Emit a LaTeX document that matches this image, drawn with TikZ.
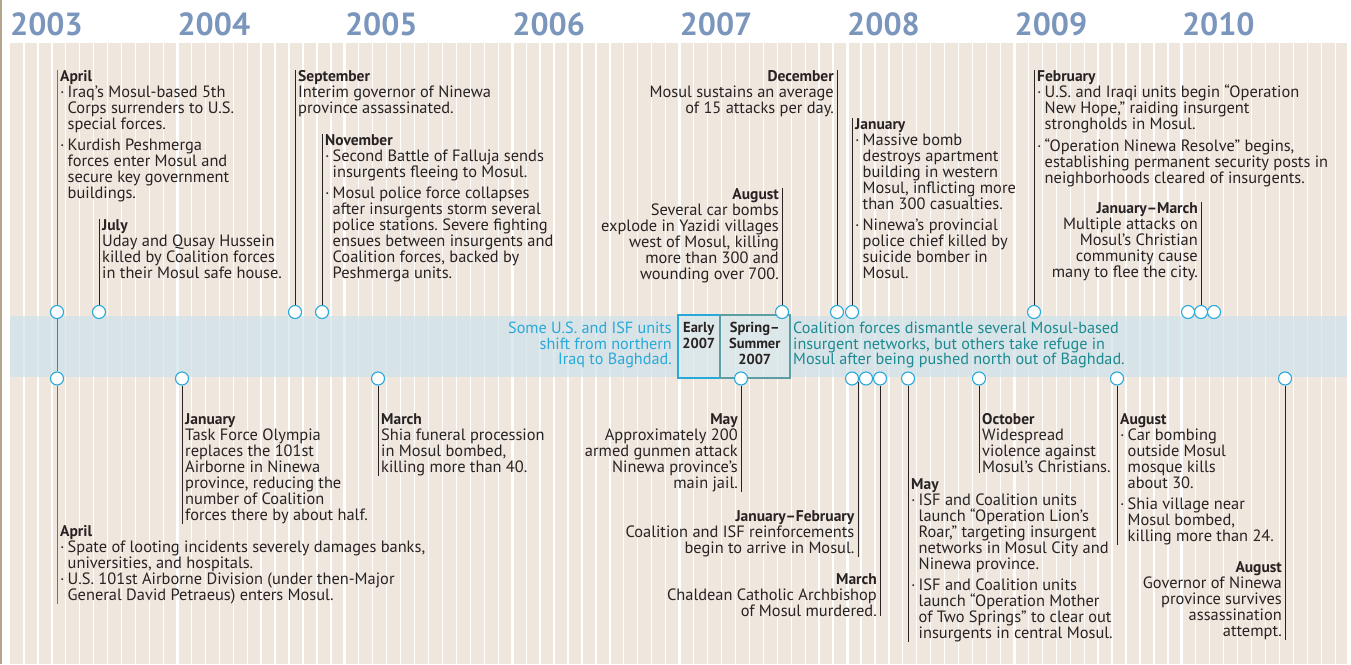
\documentclass[tikz,border=0pt]{standalone}
\usepackage{fontspec}
\setmainfont{PT Sans}
\usetikzlibrary{positioning}
\frenchspacing

\definecolor{paper}{RGB}{239,230,222}
\definecolor{edge}{RGB}{180,166,138}
\definecolor{yearblue}{RGB}{123,150,188}
\definecolor{dotblue}{RGB}{41,169,218}
\definecolor{bandblue}{RGB}{206,227,234}
\definecolor{tealtext}{RGB}{28,138,146}
\definecolor{boxteal}{RGB}{93,158,163}
\definecolor{ink}{RGB}{40,34,34}

\tikzset{
  dot/.style={circle, draw=dotblue, fill=white, line width=1.1pt, minimum size=13pt, inner sep=0pt},
  stem/.style={draw=ink, line width=1pt},
  graystem/.style={draw=black!55, line width=1pt},
  event/.style={inner sep=0pt, align=left, font=\fontsize{16.4}{16}\selectfont, text=ink},
  eventr/.style={event, align=right},
  bandtext/.style={inner sep=0pt, font=\fontsize{16.2}{15.5}\selectfont},
  boxtext/.style={inner sep=0pt, align=center, font=\fontsize{14.5}{16}\selectfont\bfseries, text=ink},
  yearlabel/.style={anchor=base west, inner sep=0pt, font=\fontsize{32}{32}\selectfont\bfseries, text=yearblue}
}
\newcommand{\mon}[1]{{\fontsize{15.5}{16}\selectfont\bfseries #1}}
\newcommand{\bul}{\makebox[7.5pt][l]{·}}
\newcommand{\ind}{\hspace*{7.5pt}}

\begin{document}
\begin{tikzpicture}[x=1pt, y=-1pt]
  \useasboundingbox (0,0) rectangle (1351,664);

  % paper and month stripes
  \fill[white] (0,0) rectangle (1351,664);
  \fill[paper] (10,43) rectangle (1347,664);
  \draw[edge, line width=2pt] (1,0) -- (1,664);
  \foreach \k in {1,...,95}{
    \pgfmathsetmacro\w{mod(\k,12)==0 ? 3 : 1.3}
    \draw[white, line width=\w pt] ({10+13.95*\k},43) -- ({10+13.95*\k},664);
  }

  % years
  \foreach \yr [count=\i from 0] in {2003,...,2010}
    \node[yearlabel] (y\yr) at ({10+167.4*\i},35) {\yr};

  % the band
  \fill[bandblue, opacity=0.7] (10,316) rectangle (1347,377);
  \node[draw=dotblue, fill=white, fill opacity=0.15, line width=1.5pt, minimum width=42, minimum height=63,
        anchor=north west, inner sep=0] (early) at (677,314) {};
  \node[draw=boxteal, fill=white, fill opacity=0.15, line width=1.5pt, minimum width=70, minimum height=63,
        anchor=north west, inner sep=0] (spring) at (719,314) {};
  \node[boxtext, anchor=north] (earlytxt) at ([yshift=-8]early.north) {Early\\2007};
  \node[boxtext, anchor=north] (springtxt) at ([yshift=-8]spring.north) {Spring--\\Summer\\2007};
  \node[bandtext, text=dotblue, align=right, anchor=north east] (shift) at (672,322)
    {Some U.S. and ISF units\\shift from northern\\Iraq to Baghdad.};
  \node[bandtext, text=tealtext, align=left, anchor=north west] (refuge) at (793,322)
    {Coalition forces dismantle several Mosul-based\\insurgent networks, but others take refuge in\\Mosul after being pushed north out of Baghdad.};

  % circles above the band
  \foreach \nm/\x in {a03/57, j03/99, s04/295, n04/322, a07/782, d07/837, j08/852, f09/1034, c10a/1188, c10b/1201, c10c/1214}
    \node[dot] (t\nm) at (\x,312) {};
  % circles below the band
  \foreach \nm/\x in {a03/57, j04/182, m05/378, m07/741, b08a/852, b08b/866, m08/880, y08/908, o08/979, a09/1117, a10/1285}
    \node[dot] (b\nm) at (\x,378.5) {};

  % events above
  \node[event, anchor=north west] (apr03) at (60,70)
    {\mon{April}\\
     \bul Iraq’s Mosul-based 5th\\
     \ind Corps surrenders to U.S.\\
     \ind special forces.\\[5pt]
     \bul Kurdish Peshmerga\\
     \ind forces enter Mosul and\\
     \ind secure key government\\
     \ind buildings.};
  \node[event, anchor=north west] (jul03) at (102,219)
    {\mon{July}\\Uday and Qusay Hussein\\killed by Coalition forces\\in their Mosul safe house.};
  \node[event, anchor=north west] (sep04) at (298,70)
    {\mon{September}\\Interim governor of Ninewa\\province assassinated.};
  \node[event, anchor=north west] (nov04) at (325,134)
    {\mon{November}\\
     \bul Second Battle of Falluja sends\\
     \ind insurgents fleeing to Mosul.\\[5pt]
     \bul Mosul police force collapses\\
     \ind after insurgents storm several\\
     \ind police stations. Severe fighting\\
     \ind ensues between insurgents and\\
     \ind Coalition forces, backed by\\
     \ind Peshmerga units.};
  \node[eventr, anchor=north east] (aug07) at (779,188)
    {\mon{August}\\Several car bombs\\explode in Yazidi villages\\west of Mosul, killing\\more than 300 and\\wounding over 700.};
  \node[eventr, anchor=north east] (dec07) at (834,70)
    {\mon{December}\\Mosul sustains an average\\of 15 attacks per day.};
  \node[event, anchor=north west] (jan08) at (855,118)
    {\mon{January}\\
     \bul Massive bomb\\
     \ind destroys apartment\\
     \ind building in western\\
     \ind Mosul, inflicting more\\
     \ind than 300 casualties.\\[5pt]
     \bul Ninewa’s provincial\\
     \ind police chief killed by\\
     \ind suicide bomber in\\
     \ind Mosul.};
  \node[event, anchor=north west] (feb09) at (1037,70)
    {\mon{February}\\
     \bul U.S. and Iraqi units begin “Operation\\
     \ind New Hope,” raiding insurgent\\
     \ind strongholds in Mosul.\\[5pt]
     \bul “Operation Ninewa Resolve” begins,\\
     \ind establishing permanent security posts in\\
     \ind neighborhoods cleared of insurgents.};
  \node[eventr, anchor=north east] (jm10) at (1198,202)
    {\mon{January--March}\\Multiple attacks on\\Mosul’s Christian\\community cause\\many to flee the city.};

  % events below
  \node[event, anchor=north west] (apr03b) at (60,525)
    {\mon{April}\\
     \bul Spate of looting incidents severely damages banks,\\
     \ind universities, and hospitals.\\
     \bul U.S. 101st Airborne Division (under then-Major\\
     \ind General David Petraeus) enters Mosul.};
  \node[event, anchor=north west] (jan04) at (185,413)
    {\mon{January}\\Task Force Olympia\\replaces the 101st\\Airborne in Ninewa\\province, reducing the\\number of Coalition\\forces there by about half.};
  \node[event, anchor=north west] (mar05) at (381,413)
    {\mon{March}\\Shia funeral procession\\in Mosul bombed,\\killing more than 40.};
  \node[eventr, anchor=north east] (may07) at (738,413)
    {\mon{May}\\Approximately 200\\armed gunmen attack\\Ninewa province’s\\main jail.};
  \node[eventr, anchor=north east] (jf08) at (854.5,510)
    {\mon{January--February}\\Coalition and ISF reinforcements\\begin to arrive in Mosul.};
  \node[eventr, anchor=north east] (mar08) at (877,573)
    {\mon{March}\\Chaldean Catholic Archbishop\\of Mosul murdered.};
  \node[event, anchor=north west] (may08) at (911,478)
    {\mon{May}\\
     \bul ISF and Coalition units\\
     \ind launch “Operation Lion’s\\
     \ind Roar,” targeting insurgent\\
     \ind networks in Mosul City and\\
     \ind Ninewa province.\\[5pt]
     \bul ISF and Coalition units\\
     \ind launch “Operation Mother\\
     \ind of Two Springs” to clear out\\
     \ind insurgents in central Mosul.};
  \node[event, anchor=north west] (oct08) at (982,413)
    {\mon{October}\\Widespread\\violence against\\Mosul’s Christians.};
  \node[event, anchor=north west] (aug09) at (1120,413)
    {\mon{August}\\
     \bul Car bombing\\
     \ind outside Mosul\\
     \ind mosque kills\\
     \ind about 30.\\[5pt]
     \bul Shia village near\\
     \ind Mosul bombed,\\
     \ind killing more than 24.};
  \node[eventr, anchor=north east] (aug10) at (1282,561)
    {\mon{August}\\Governor of Ninewa\\province survives\\assassination\\attempt.};

  % stems up
  \draw[graystem] (ta03.north) -- (apr03.north -| ta03);
  \draw[graystem] (ta03.south) -- (ba03.north);
  \draw[stem] (tj03.north) -- (jul03.north -| tj03);
  \draw[stem] (ts04.north) -- (sep04.north -| ts04);
  \draw[stem] (tn04.north) -- (nov04.north -| tn04);
  \draw[stem] (ta07.north) -- (aug07.north -| ta07);
  \draw[stem] (td07.north) -- (dec07.north -| td07);
  \draw[stem] (tj08.north) -- (jan08.north -| tj08);
  \draw[stem] (tf09.north) -- (feb09.north -| tf09);
  \draw[stem] (tc10b.north) -- (jm10.north -| tc10b);

  % stems down
  \draw[graystem] (ba03.south) -- (apr03b.south -| ba03);
  \draw[stem] (bj04.south) -- (jan04.south -| bj04);
  \draw[stem] (bm05.south) -- (mar05.south -| bm05);
  \draw[stem] (bm07.south) -- (may07.south -| bm07);
  \draw[stem] (bb08a.-30) -- (jf08.south -| bb08a.-30);
  \draw[stem] (bm08.south) -- (mar08.south -| bm08);
  \draw[stem] (by08.south) -- (may08.south -| by08);
  \draw[stem] (bo08.south) -- (oct08.south -| bo08);
  \draw[stem] (ba09.south) -- (aug09.south -| ba09);
  \draw[stem] (ba10.south) -- (aug10.south -| ba10);
\end{tikzpicture}
\end{document}
